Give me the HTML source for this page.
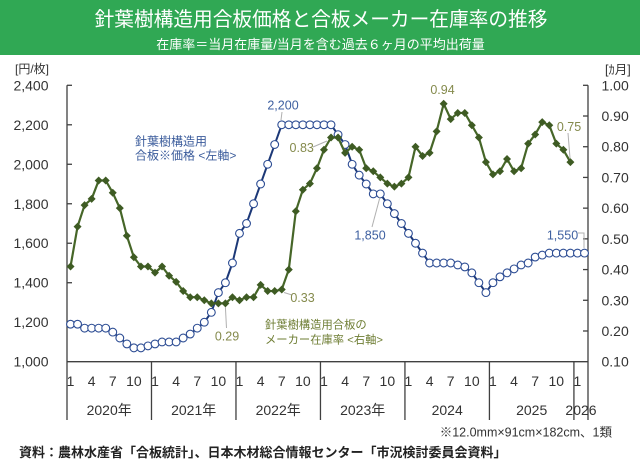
<!DOCTYPE html>
<html><head><meta charset="utf-8">
<style>
html,body{margin:0;padding:0;background:#fff;}
svg{display:block}
text{font-family:"Liberation Sans","Noto Sans CJK JP",sans-serif;}
</style></head>
<body>
<svg width="640" height="462" viewBox="0 0 640 462" xmlns="http://www.w3.org/2000/svg">
<defs>
<marker id="mc" markerWidth="10" markerHeight="10" refX="5" refY="5" markerUnits="userSpaceOnUse" overflow="visible">
<circle cx="5" cy="5" r="3.9" fill="#fff" stroke="#2d4d94" stroke-width="1.1"/>
</marker>
<marker id="md" markerWidth="10" markerHeight="10" refX="5" refY="5" markerUnits="userSpaceOnUse" overflow="visible">
<path d="M5,1 L9,5 L5,9 L1,5 Z" fill="#3e5b23"/>
</marker>
</defs>
<rect x="0" y="0" width="640" height="462" fill="#fff"/>
<rect x="0" y="0" width="640" height="55" fill="#30a854"/>
<text x="321" y="26" font-size="19.7" fill="#fff" text-anchor="middle">針葉樹構造用合板価格と合板メーカー在庫率の推移</text>
<text x="320.5" y="49" font-size="13" fill="#fff" text-anchor="middle">在庫率＝当月在庫量/当月を含む過去６ヶ月の平均出荷量</text>

<!-- unit labels -->
<text x="15" y="73" font-size="12" fill="#333">[円/枚]</text>
<text x="605" y="74" font-size="12.5" fill="#333">[ｶ月]</text>

<!-- axes -->
<g stroke="#404040" stroke-width="1.3" fill="none">
<line x1="67" y1="85.3" x2="67" y2="420"/>
<line x1="588" y1="85.3" x2="588" y2="420"/>
<line x1="67" y1="361.7" x2="588" y2="361.7"/>
<line x1="151.49" y1="361.7" x2="151.49" y2="420"/>
<line x1="235.97" y1="361.7" x2="235.97" y2="420"/>
<line x1="320.46" y1="361.7" x2="320.46" y2="420"/>
<line x1="404.94" y1="361.7" x2="404.94" y2="420"/>
<line x1="489.43" y1="361.7" x2="489.43" y2="420"/>
<line x1="573.92" y1="361.7" x2="573.92" y2="420"/>
<line x1="67" y1="85.3" x2="72" y2="85.3"/>
<line x1="67" y1="124.79" x2="72" y2="124.79"/>
<line x1="67" y1="164.27" x2="72" y2="164.27"/>
<line x1="67" y1="203.76" x2="72" y2="203.76"/>
<line x1="67" y1="243.24" x2="72" y2="243.24"/>
<line x1="67" y1="282.73" x2="72" y2="282.73"/>
<line x1="67" y1="322.21" x2="72" y2="322.21"/>
<line x1="583" y1="85.3" x2="588" y2="85.3"/>
<line x1="583" y1="116.01" x2="588" y2="116.01"/>
<line x1="583" y1="146.72" x2="588" y2="146.72"/>
<line x1="583" y1="177.43" x2="588" y2="177.43"/>
<line x1="583" y1="208.14" x2="588" y2="208.14"/>
<line x1="583" y1="238.86" x2="588" y2="238.86"/>
<line x1="583" y1="269.57" x2="588" y2="269.57"/>
<line x1="583" y1="300.28" x2="588" y2="300.28"/>
<line x1="583" y1="330.99" x2="588" y2="330.99"/>
</g>

<!-- left tick labels -->
<g font-size="14" fill="#333" text-anchor="end">
<text x="48.5" y="90.3">2,400</text>
<text x="48.5" y="129.8">2,200</text>
<text x="48.5" y="169.3">2,000</text>
<text x="48.5" y="208.8">1,800</text>
<text x="48.5" y="248.2">1,600</text>
<text x="48.5" y="287.7">1,400</text>
<text x="48.5" y="327.2">1,200</text>
<text x="48.5" y="366.7">1,000</text>
</g>
<!-- right tick labels -->
<g font-size="14" fill="#333">
<text x="601.5" y="90.3">1.00</text>
<text x="601.5" y="121">0.90</text>
<text x="601.5" y="151.7">0.80</text>
<text x="601.5" y="182.4">0.70</text>
<text x="601.5" y="213.1">0.60</text>
<text x="601.5" y="243.9">0.50</text>
<text x="601.5" y="274.6">0.40</text>
<text x="601.5" y="305.3">0.30</text>
<text x="601.5" y="336">0.20</text>
<text x="601.5" y="366.7">0.10</text>
</g>

<!-- month labels -->
<g font-size="14" fill="#333" text-anchor="middle">
<text x="70.52" y="386">1</text><text x="91.64" y="386">4</text><text x="112.76" y="386">7</text><text x="133.88" y="386">10</text>
<text x="155.01" y="386">1</text><text x="176.13" y="386">4</text><text x="197.25" y="386">7</text><text x="218.37" y="386">10</text>
<text x="239.49" y="386">1</text><text x="260.61" y="386">4</text><text x="281.74" y="386">7</text><text x="302.86" y="386">10</text>
<text x="323.98" y="386">1</text><text x="345.10" y="386">4</text><text x="366.22" y="386">7</text><text x="387.34" y="386">10</text>
<text x="408.46" y="386">1</text><text x="429.59" y="386">4</text><text x="450.71" y="386">7</text><text x="471.83" y="386">10</text>
<text x="492.95" y="386">1</text><text x="514.07" y="386">4</text><text x="535.19" y="386">7</text><text x="556.31" y="386">10</text>
<text x="577.44" y="386">1</text>
<text x="109.2" y="415">2020年</text>
<text x="193.7" y="415">2021年</text>
<text x="278.2" y="415">2022年</text>
<text x="362.7" y="415">2023年</text>
<text x="447.2" y="415">2024</text>
<text x="531.7" y="415">2025</text>
<text x="581" y="415">2026</text>
</g>

<!-- price series -->
<polyline fill="none" stroke="#1c3877" stroke-width="2" stroke-linejoin="round" marker-start="url(#mc)" marker-mid="url(#mc)" marker-end="url(#mc)" points="70.52,324.19 77.56,324.19 84.60,328.14 91.64,328.14 98.68,328.14 105.72,328.14 112.76,332.09 119.80,338.01 126.84,343.93 133.88,347.88 140.93,347.88 147.97,345.91 155.01,343.93 162.05,341.96 169.09,341.96 176.13,341.96 183.17,338.01 190.21,334.06 197.25,328.14 204.29,322.21 211.33,312.34 218.37,292.60 225.41,282.73 232.45,262.99 239.49,233.37 246.53,223.50 253.57,203.76 260.61,184.01 267.65,164.27 274.69,144.53 281.74,124.79 288.78,124.79 295.82,124.79 302.86,124.79 309.90,124.79 316.94,124.79 323.98,124.79 331.02,124.79 338.06,134.66 345.10,144.53 352.14,164.27 359.18,175.13 366.22,184.01 373.26,193.89 380.30,193.89 387.34,203.76 394.38,213.63 401.42,223.50 408.46,233.37 415.50,243.24 422.55,253.11 429.59,262.99 436.63,262.99 443.67,262.99 450.71,262.99 457.75,264.96 464.79,266.93 471.83,272.86 478.87,282.73 485.91,292.60 492.95,282.73 499.99,276.81 507.03,272.86 514.07,268.91 521.11,264.96 528.15,262.99 535.19,257.06 542.23,255.09 549.27,253.11 556.31,253.11 563.36,253.11 570.40,253.11 577.44,253.11 584.48,253.11"/>

<!-- inventory series -->
<polyline fill="none" stroke="#466628" stroke-width="2.2" stroke-linejoin="round" marker-start="url(#md)" marker-mid="url(#md)" marker-end="url(#md)" points="70.52,266.50 77.56,226.57 84.60,205.07 91.64,198.93 98.68,180.51 105.72,180.51 112.76,192.79 119.80,208.14 126.84,235.78 133.88,257.28 140.93,266.50 147.97,266.50 155.01,272.64 162.05,266.50 169.09,275.71 176.13,281.85 183.17,291.06 190.21,297.21 197.25,297.21 204.29,300.28 211.33,303.35 218.37,303.35 225.41,303.35 232.45,297.21 239.49,300.28 246.53,297.21 253.57,297.21 260.61,284.92 267.65,291.06 274.69,291.06 281.74,289.53 288.78,269.57 295.82,211.22 302.86,189.72 309.90,183.58 316.94,168.22 323.98,149.79 331.02,137.51 338.06,137.51 345.10,152.87 352.14,146.72 359.18,149.79 366.22,168.22 373.26,171.29 380.30,177.43 387.34,183.58 394.38,186.65 401.42,183.58 408.46,177.43 415.50,146.72 422.55,155.94 429.59,152.87 436.63,131.37 443.67,103.73 450.71,119.08 457.75,112.94 464.79,112.94 471.83,125.23 478.87,137.51 485.91,162.08 492.95,174.36 499.99,171.29 507.03,159.01 514.07,171.29 521.11,168.22 528.15,143.65 535.19,134.44 542.23,122.15 549.27,125.23 556.31,143.65 563.36,149.79 570.40,162.08"/>

<!-- leader lines -->
<g stroke="#b0b0b0" stroke-width="1" fill="none">
<line x1="282" y1="112" x2="281" y2="120"/>
<line x1="313" y1="147" x2="327" y2="141"/>
<line x1="372" y1="227" x2="380" y2="197"/>
<line x1="226.5" y1="328" x2="225.4" y2="307"/>
<line x1="284" y1="292.5" x2="292" y2="295"/>
<line x1="568" y1="133" x2="570" y2="158"/>
<polyline points="578,233 584,233 584,248"/>
</g>

<!-- data labels -->
<g font-size="12.5" text-anchor="middle">
<text x="283" y="109.5" fill="#3d5fa0">2,200</text>
<text x="301.7" y="152" fill="#848a4c">0.83</text>
<text x="370" y="239.5" fill="#3d5fa0">1,850</text>
<text x="227" y="340.5" fill="#848a4c">0.29</text>
<text x="302.5" y="301.8" fill="#848a4c">0.33</text>
<text x="442.5" y="93.8" fill="#848a4c">0.94</text>
<text x="569" y="131.2" fill="#848a4c">0.75</text>
<text x="562.5" y="239.5" fill="#3d5fa0">1,550</text>
</g>

<!-- legends -->
<text x="135" y="145.3" font-size="12" fill="#3a5b9b">針葉樹構造用</text>
<text x="135" y="159.6" font-size="12" fill="#3a5b9b">合板※価格 &lt;左軸&gt;</text>
<text x="265" y="328.3" font-size="11.3" fill="#6e7d33">針葉樹構造用合板の</text>
<text x="265" y="343.7" font-size="11.3" fill="#6e7d33">メーカー在庫率 &lt;右軸&gt;</text>

<!-- footer -->
<text x="612" y="436.5" font-size="12.5" fill="#333" text-anchor="end">※12.0mm×91cm×182cm、1類</text>
<text x="19" y="457" font-size="13" font-weight="bold" fill="#222">資料：農林水産省「合板統計」、日本木材総合情報センター「市況検討委員会資料」</text>
</svg>
</body></html>
